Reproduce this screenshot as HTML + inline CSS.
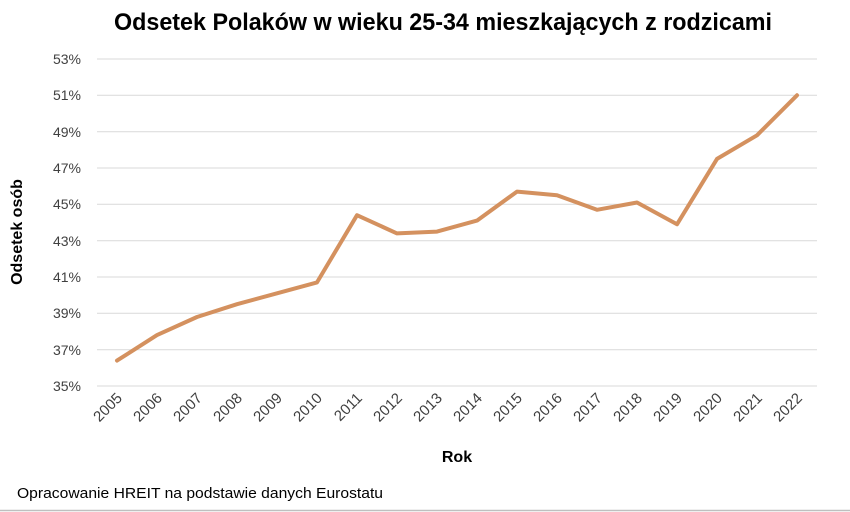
<!DOCTYPE html>
<html><head><meta charset="utf-8"><style>
body{margin:0;background:#fff;}
svg{display:block;font-family:"Liberation Sans",sans-serif;}
</style></head><body>
<svg width="850" height="512" viewBox="0 0 850 512">
<rect width="850" height="512" fill="#fff"/>
<text x="443" y="30" text-anchor="middle" font-size="24" font-weight="bold" fill="#000" textLength="658" lengthAdjust="spacingAndGlyphs">Odsetek Polaków w wieku 25-34 mieszkających z rodzicami</text>
<g stroke="#d9d9d9" stroke-width="1">
<line x1="97" x2="817" y1="59" y2="59"/>
<line x1="97" x2="817" y1="95.3" y2="95.3"/>
<line x1="97" x2="817" y1="131.7" y2="131.7"/>
<line x1="97" x2="817" y1="168" y2="168"/>
<line x1="97" x2="817" y1="204.3" y2="204.3"/>
<line x1="97" x2="817" y1="240.7" y2="240.7"/>
<line x1="97" x2="817" y1="277" y2="277"/>
<line x1="97" x2="817" y1="313.3" y2="313.3"/>
<line x1="97" x2="817" y1="349.7" y2="349.7"/>
<line x1="97" x2="817" y1="386" y2="386"/>
</g>
<g font-size="14" fill="#404040" text-anchor="end">
<text x="81" y="64">53%</text>
<text x="81" y="100">51%</text>
<text x="81" y="137">49%</text>
<text x="81" y="173">47%</text>
<text x="81" y="209">45%</text>
<text x="81" y="246">43%</text>
<text x="81" y="282">41%</text>
<text x="81" y="318">39%</text>
<text x="81" y="355">37%</text>
<text x="81" y="391">35%</text>
</g>
<g font-size="15" fill="#404040" text-anchor="end">
<text transform="translate(123,399) rotate(-45)">2005</text>
<text transform="translate(163,399) rotate(-45)">2006</text>
<text transform="translate(203,399) rotate(-45)">2007</text>
<text transform="translate(243,399) rotate(-45)">2008</text>
<text transform="translate(283,399) rotate(-45)">2009</text>
<text transform="translate(323,399) rotate(-45)">2010</text>
<text transform="translate(363,399) rotate(-45)">2011</text>
<text transform="translate(403,399) rotate(-45)">2012</text>
<text transform="translate(443,399) rotate(-45)">2013</text>
<text transform="translate(483,399) rotate(-45)">2014</text>
<text transform="translate(523,399) rotate(-45)">2015</text>
<text transform="translate(563,399) rotate(-45)">2016</text>
<text transform="translate(603,399) rotate(-45)">2017</text>
<text transform="translate(643,399) rotate(-45)">2018</text>
<text transform="translate(683,399) rotate(-45)">2019</text>
<text transform="translate(723,399) rotate(-45)">2020</text>
<text transform="translate(763,399) rotate(-45)">2021</text>
<text transform="translate(803,399) rotate(-45)">2022</text>
</g>
<polyline fill="none" stroke="#d4915f" stroke-width="4" stroke-linejoin="round" stroke-linecap="round"
points="117,360.6 157,335.1 197,317 237,304.2 277,293.3 317,282.4 357,215.2 397,233.4 437,231.6 477,220.6 517,191.6 557,195.2 597,209.8 637,202.5 677,224.3 717,158.9 757,135.3 797,95.3"/>
<text x="457" y="462" text-anchor="middle" font-size="16" font-weight="bold" fill="#000">Rok</text>
<text transform="translate(22,232) rotate(-90)" text-anchor="middle" font-size="16" font-weight="bold" fill="#000">Odsetek osób</text>
<text x="17" y="498" font-size="15" fill="#000" textLength="366" lengthAdjust="spacingAndGlyphs">Opracowanie HREIT na podstawie danych Eurostatu</text>
<line x1="0" x2="850" y1="510.5" y2="510.5" stroke="#bfbfbf" stroke-width="1.5"/>
</svg>
</body></html>
